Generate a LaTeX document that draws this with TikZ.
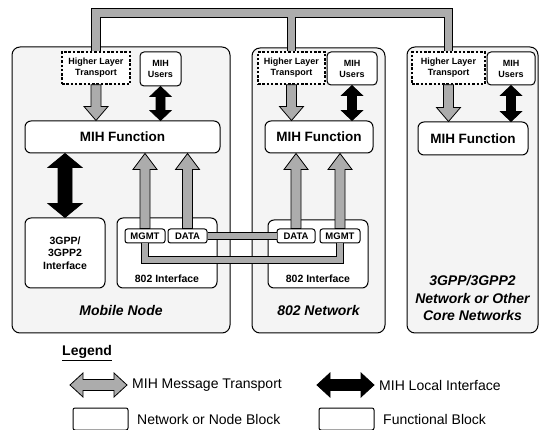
\documentclass[tikz,border=0pt]{standalone}
\usepackage{fontspec}
\setmainfont{Liberation Sans}
\usetikzlibrary{calc}

\tikzset{
  shaftw/.store in=\shaftw, headw/.store in=\headw, headl/.store in=\headl,
  shaftw=5pt, headw=12pt, headl=14pt,
  onearrow/.style={to path={
      ($(\tikztostart)!\shaftw!90:(\tikztotarget)$)
   -- ($(\tikztotarget)!\headl!(\tikztostart)!\shaftw!90:(\tikztotarget)$)
   -- ($(\tikztotarget)!\headl!(\tikztostart)!\headw!90:(\tikztotarget)$)
   -- (\tikztotarget)
   -- ($(\tikztotarget)!\headl!(\tikztostart)!\headw!-90:(\tikztotarget)$)
   -- ($(\tikztotarget)!\headl!(\tikztostart)!\shaftw!-90:(\tikztotarget)$)
   -- ($(\tikztostart)!\shaftw!-90:(\tikztotarget)$) -- cycle}},
  twoarrow/.style={to path={
      (\tikztostart)
   -- ($(\tikztostart)!\headl!(\tikztotarget)!\headw!90:(\tikztotarget)$)
   -- ($(\tikztostart)!\headl!(\tikztotarget)!\shaftw!90:(\tikztotarget)$)
   -- ($(\tikztotarget)!\headl!(\tikztostart)!\shaftw!90:(\tikztotarget)$)
   -- ($(\tikztotarget)!\headl!(\tikztostart)!\headw!90:(\tikztotarget)$)
   -- (\tikztotarget)
   -- ($(\tikztotarget)!\headl!(\tikztostart)!\headw!-90:(\tikztotarget)$)
   -- ($(\tikztotarget)!\headl!(\tikztostart)!\shaftw!-90:(\tikztotarget)$)
   -- ($(\tikztostart)!\headl!(\tikztotarget)!\shaftw!-90:(\tikztotarget)$)
   -- ($(\tikztostart)!\headl!(\tikztotarget)!\headw!-90:(\tikztotarget)$)
   -- cycle}},
  garrow/.style={draw=black, line width=0.8pt, fill=gray!65},
  karrow/.style={draw=black, line width=0.8pt, fill=black},
  netbox/.style={draw, line width=1pt, rounded corners=8pt, fill=gray!9},
  funbox/.style={draw, line width=1pt, rounded corners=4pt, fill=white, inner sep=0pt,
    align=center, font=\fontsize{9}{11}\selectfont\bfseries},
  hltbox/.style={funbox, rounded corners=0pt, line width=1.4pt, dash pattern=on 2.5pt off 1.8pt},
  mihbox/.style={funbox, rounded corners=6pt, font=\fontsize{13.5}{16}\selectfont\bfseries},
  ifbox/.style={funbox, rounded corners=6pt, font=\fontsize{10.5}{12.5}\selectfont\bfseries},
  tagbox/.style={funbox, rounded corners=2.5pt, minimum height=14pt, font=\fontsize{9.5}{11}\selectfont\bfseries},
  iflbl/.style={inner sep=0pt, font=\fontsize{10.5}{12.5}\selectfont\bfseries},
  nodelbl/.style={inner sep=0pt, align=center, font=\fontsize{14}{17.5}\selectfont\bfseries\itshape},
  link/.style={line width=0.8pt, double=gray!65, double distance=5.5pt},
  bus/.style={line width=0.8pt, double=gray!65, double distance=7.5pt},
  lgtext/.style={anchor=west, inner sep=0pt, font=\fontsize{14}{16}\selectfont}
}

\begin{document}
\begin{tikzpicture}[x=1pt,y=-1pt]
\useasboundingbox (0,0) rectangle (541,430);

\node[netbox, minimum width=218pt, minimum height=286pt] (mn) at (121,190) {};
\node[netbox, minimum width=133pt, minimum height=285pt] (net) at (318.5,190.5) {};
\node[netbox, minimum width=131pt, minimum height=286pt] (core) at (472.5,190) {};
\node[nodelbl] (mnlbl) at (121,310) {Mobile Node};
\node[nodelbl] (netlbl) at (318.5,310) {802 Network};
\node[nodelbl] (corelbl) at (472.5,298) {3GPP/3GPP2\\Network or Other\\Core Networks};

% mobile node
\node[hltbox, minimum width=68pt, minimum height=32pt] (hltA) at (96,68) {Higher Layer\\Transport};
\node[funbox, minimum width=41pt, minimum height=34pt] (usrA) at (160.5,69) {MIH\\Users};
\node[mihbox, minimum width=195pt, minimum height=32pt] (mihA) at (122.5,137) {MIH Function};
\node[ifbox, minimum width=80pt, minimum height=70pt] (gppA) at (65,253) {3GPP/\\3GPP2\\Interface};
\node[ifbox, minimum width=100pt, minimum height=70pt] (ifA) at (167,253) {};
\node[iflbl] (ifAlbl) at (167,279) {802 Interface};
\node[tagbox, minimum width=40pt] (mgmtA) at (145,236) {MGMT};
\node[tagbox, minimum width=39pt] (dataA) at (187.5,236) {DATA};

% 802 network
\node[hltbox, minimum width=67pt, minimum height=32pt] (hltB) at (291.5,68) {Higher Layer\\Transport};
\node[funbox, minimum width=50pt, minimum height=33pt] (usrB) at (352,68.5) {MIH\\Users};
\node[mihbox, minimum width=108pt, minimum height=32pt] (mihB) at (319,137) {MIH Function};
\node[ifbox, minimum width=100pt, minimum height=68pt] (ifB) at (318,254) {};
\node[iflbl] (ifBlbl) at (318,279) {802 Interface};
\node[tagbox, minimum width=38pt] (dataB) at (296,236) {DATA};
\node[tagbox, minimum width=40pt] (mgmtB) at (340,236) {MGMT};

% core network
\node[hltbox, minimum width=73pt, minimum height=32pt] (hltC) at (448.5,68) {Higher Layer\\Transport};
\node[funbox, minimum width=48pt, minimum height=33pt] (usrC) at (511,68.5) {MIH\\Users};
\node[mihbox, minimum width=110pt, minimum height=33pt] (mihC) at (473,138.5) {MIH Function};

\coordinate (busy) at (0,13);
\coordinate (lowrun) at (0,260);
\draw[bus] (hltA.north) -- (hltA.north |- busy) -- (hltC.north |- busy) -- (hltC.north)
  (hltB.north) -- (hltB.north |- busy);
\draw[link] (mgmtA.south) -- (mgmtA.south |- lowrun) -- (mgmtB.south |- lowrun) -- (mgmtB.south)
  (dataA.east) -- (dataB.west);

\coordinate (hAin) at (hltA.south |- mihA.north);
\coordinate (hBin) at (hltB.south |- mihB.north);
\coordinate (hCin) at (hltC.south |- mihC.north);
\draw[garrow, onearrow] (hltA.south) to (hAin);
\draw[garrow, onearrow] (hltB.south) to (hBin);
\draw[garrow, onearrow] (hltC.south) to (hCin);

\coordinate (uAin) at (usrA.south |- mihA.north);
\coordinate (uBin) at (usrB.south |- mihB.north);
\coordinate (uCin) at (usrC.south |- mihC.north);
\draw[karrow, twoarrow, shaftw=4.5pt, headw=10.5pt, headl=10pt] (usrA.south) to (uAin);
\draw[karrow, twoarrow, shaftw=4.5pt, headw=10.5pt, headl=10pt] (usrB.south) to (uBin);
\draw[karrow, twoarrow, shaftw=4.5pt, headw=10.5pt, headl=10pt] (usrC.south) to (uCin);

\coordinate (gAout) at (mihA.south -| gppA.north);
\draw[karrow, twoarrow, shaftw=7pt, headw=17pt, headl=14pt] (gAout) to (gppA.north);

\coordinate (mgAin) at (mgmtA.north |- mihA.south);
\coordinate (dtAin) at (dataA.north |- mihA.south);
\coordinate (dtBin) at (dataB.north |- mihB.south);
\coordinate (mgBin) at (mgmtB.north |- mihB.south);
\draw[garrow, onearrow, shaftw=5pt, headw=12pt, headl=16pt] (mgmtA.north) to (mgAin);
\draw[garrow, onearrow, shaftw=5pt, headw=12pt, headl=16pt] (dataA.north) to (dtAin);
\draw[garrow, onearrow, shaftw=5pt, headw=12pt, headl=16pt] (dataB.north) to (dtBin);
\draw[garrow, onearrow, shaftw=5pt, headw=12pt, headl=16pt] (mgmtB.north) to (mgBin);

% legend
\node[lgtext, font=\fontsize{14}{16}\selectfont\bfseries] (lgtitle) at (62,353) {\underline{Legend}};
\coordinate (lgA1) at (70,385);
\coordinate (lgA2) at (127,385);
\coordinate (lgB1) at (317,385);
\coordinate (lgB2) at (374,385);
\draw[garrow, twoarrow, shaftw=5.5pt, headw=12pt, headl=13pt] (lgA1) to (lgA2);
\draw[karrow, twoarrow, shaftw=5.5pt, headw=12pt, headl=13pt] (lgB1) to (lgB2);
\node[lgtext] (lgtxtA) at (132,385) {MIH Message Transport};
\node[lgtext] (lgtxtB) at (379,385) {MIH Local Interface};
\node[draw, line width=1pt, rounded corners=2pt, minimum width=55pt, minimum height=22pt] (lgboxA) at (100.5,419) {};
\node[draw, line width=1pt, rounded corners=2pt, minimum width=55pt, minimum height=22pt] (lgboxB) at (346.5,419) {};
\node[lgtext] (lgtxtC) at (137,419) {Network or Node Block};
\node[lgtext] (lgtxtD) at (383,419) {Functional Block};
\end{tikzpicture}
\end{document}
